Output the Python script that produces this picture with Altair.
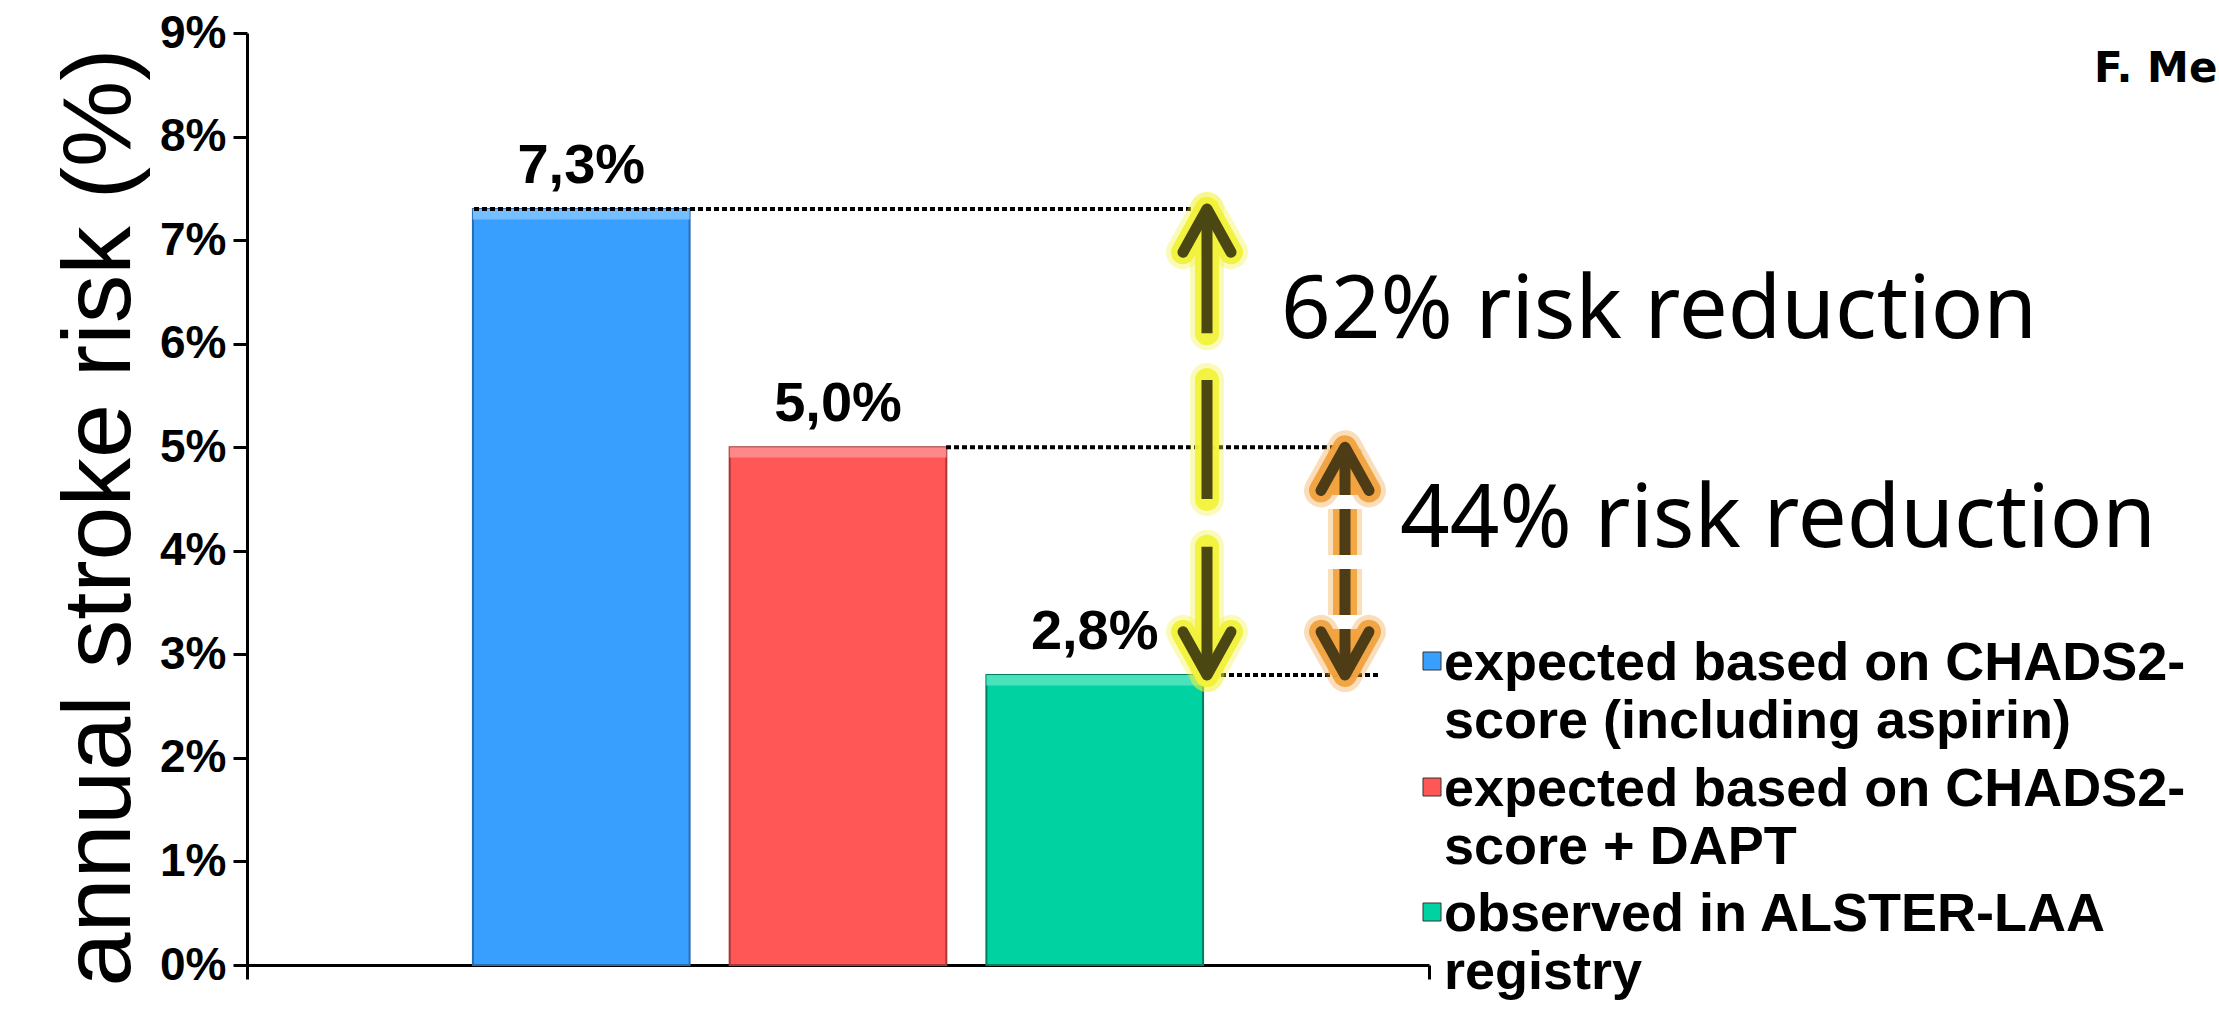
import altair as alt
import pandas as pd

# ---- data -------------------------------------------------------------
series_keys = ["chads2_aspirin", "chads2_dapt", "alster_laa"]
risk_values = [7.3, 5.0, 2.8]                       # annual stroke risk, %
bar_fill = ["#389fff", "#ff5656", "#00d3a1"]
bar_edge = ["#2a6cb0", "#a83838", "#00805f"]
bar_bevel = ["#7cc1ff", "#ff8e8e", "#52e3bf"]
legend_labels = [
    ["expected based on CHADS2-", "score (including aspirin)"],
    ["expected based on CHADS2-", "score + DAPT"],
    ["observed in ALSTER-LAA", "registry"],
]
y_ticks = [0, 1, 2, 3, 4, 5, 6, 7, 8, 9]
y_title = "annual stroke risk (%)"
author = "F. Meincke"

# relative risk reductions shown next to the arrows
rrr_all = round((1 - risk_values[2] / risk_values[0]) * 100)
rrr_dapt = round((1 - risk_values[2] / risk_values[1]) * 100)

# ---- layout (pixels, relative to the plot origin) ----------------------
W, H = 1182, 932
PAD = {"left": 247, "top": 33, "right": 2219 - 247 - W, "bottom": 1015 - 33 - H}
YELLOW_X, ORANGE_X = 960, 1098
guide_start = [227, 699, 958]
guide_end = [960, 1103, 1133]
yellow_breaks = [(6.1, 7.3), (4.5, 5.65), (2.8, 4.04)]

BOLD = "Liberation Sans"
HAND = "Comic Sans MS, Noto Sans"

y_scale = alt.Scale(domain=[0, 9], nice=False, zero=True)
y_axis = alt.Axis(values=y_ticks, labelExpr="datum.value + '%'", title=y_title,
                  labelFont=BOLD, labelFontSize=46, labelFontWeight="bold",
                  labelColor="black", labelPadding=7, tickSize=14, tickWidth=3,
                  tickColor="black", domainColor="black", domainWidth=3,
                  grid=False, titleFont=BOLD, titleFontSize=97,
                  titleFontWeight="normal", titleColor="black", titleX=-118,
                  titleY=484, titleAngle=270, titleAlign="center",
                  titleBaseline="alphabetic")
x_axis = alt.Axis(labels=False, title=None, tickBand="extent", tickSize=14,
                  tickWidth=3, tickColor="black", domainColor="black",
                  domainWidth=3, grid=False)


def Y(field):
    return alt.Y(field, scale=y_scale, axis=y_axis)


bars = pd.DataFrame({"group": "all", "series": series_keys, "value": risk_values})
base = alt.Chart(bars)
X = alt.X("group:N", scale=alt.Scale(paddingInner=0, paddingOuter=0), axis=x_axis)
XO = alt.XOffset("series:N", sort=series_keys,
                 scale=alt.Scale(domain=series_keys, paddingInner=0.156,
                                 paddingOuter=0.88))

bar_layer = base.mark_bar(strokeWidth=2).encode(
    x=X, xOffset=XO, y=Y("value:Q"),
    color=alt.Color("series:N", scale=alt.Scale(domain=series_keys, range=bar_fill),
                    legend=None),
    stroke=alt.Stroke("series:N", scale=alt.Scale(domain=series_keys, range=bar_edge),
                      legend=None),
)

# lighter bevel strip along the top of each bar
bevel_layer = base.transform_calculate(lower="datum.value - 0.1").mark_bar(
    opacity=0.9).encode(
    x=X, xOffset=XO, y=Y("value:Q"), y2="lower:Q",
    fill=alt.Fill("series:N", scale=alt.Scale(domain=series_keys, range=bar_bevel),
                  legend=None),
)

value_labels = base.transform_calculate(
    label="replace(format(datum.value, '.1f'), '.', ',') + '%'"
).mark_text(font=BOLD, fontSize=56, fontWeight="bold", color="black",
            baseline="alphabetic", dy=-26).encode(
    x=X, xOffset=XO, y=Y("value:Q"), text="label:N",
)

layers = [bar_layer, bevel_layer, value_labels]

# dotted guides from each bar top towards the arrows
for v, x0, x1 in zip(risk_values, guide_start, guide_end):
    layers.append(
        alt.Chart(pd.DataFrame({"value": [v]})).mark_rule(
            color="black", strokeWidth=4, strokeDash=[5, 3]
        ).encode(x=alt.value(x0), x2=alt.value(x1), y=Y("value:Q"))
    )

UP = "M -1 1.8 L 0 0 L 1 1.8"
DOWN = "M -1 -1.8 L 0 0 L 1 -1.8"
head_shape = alt.Shape("dir:N", scale=alt.Scale(domain=["up", "down"], range=[UP, DOWN]),
                       legend=None)


def arrow(xpx, spans, tips, glow, dark, dash=None):
    seg = pd.DataFrame({"value": [s[0] for s in spans], "hi": [s[1] for s in spans]})
    heads = pd.DataFrame({"value": tips, "dir": ["up", "down"]})
    out = []
    for width, col, op in [(34, glow, 0.35), (24, glow, 0.95), (11, dark, 1.0)]:
        rule_kw = dict(color=col, strokeWidth=width, opacity=op,
                       strokeCap="butt" if col == dark else "round")
        if dash:
            rule_kw["strokeDash"] = dash
            rule_kw["strokeCap"] = "butt"
        out.append(
            alt.Chart(seg).mark_rule(**rule_kw).encode(
                x=alt.value(xpx), y=Y("value:Q"), y2="hi:Q")
        )
        out.append(
            alt.Chart(heads).mark_point(filled=False, size=2304, strokeWidth=width,
                                        color=col, opacity=op, strokeCap="round",
                                        strokeJoin="round").encode(
                x=alt.value(xpx), y=Y("value:Q"), shape=head_shape)
        )
    return out


layers += arrow(YELLOW_X, yellow_breaks, [risk_values[0], risk_values[2]],
                "#f2f23a", "#4a4712")
layers += arrow(ORANGE_X, [(risk_values[2], risk_values[1])],
                [risk_values[1], risk_values[2]], "#f2a33e", "#4e3c16",
                dash=[46, 14])

layers.append(
    alt.Chart(pd.DataFrame({"value": [6.05]})).mark_text(
        font=HAND, fontSize=87, align="left", baseline="alphabetic", color="black",
        text=f"{rrr_all}% risk reduction").encode(x=alt.value(1034), y=Y("value:Q"))
)
layers.append(
    alt.Chart(pd.DataFrame({"value": [4.04]})).mark_text(
        font=HAND, fontSize=87, align="left", baseline="alphabetic", color="black",
        text=f"{rrr_dapt}% risk reduction").encode(x=alt.value(1153), y=Y("value:Q"))
)

# legend drawn beside the plot
dot = pd.DataFrame({"k": [0]})
legend_y = [604, 730, 855]
for lines, fill, ty in zip(legend_labels, bar_fill, legend_y):
    layers.append(
        alt.Chart(dot).mark_square(size=324, color=fill, opacity=1,
                                   stroke="#333333", strokeWidth=1).encode(
            x=alt.value(1185), y=alt.value(ty + 24))
    )
    layers.append(
        alt.Chart(dot).mark_text(text=lines, font=BOLD, fontSize=54, fontWeight="bold",
                                 align="left", baseline="top", lineHeight=58,
                                 color="black").encode(
            x=alt.value(1197), y=alt.value(ty))
    )

layers.append(
    alt.Chart(dot).mark_text(text=author, font="Comic Sans MS, DejaVu Sans",
                             fontSize=42, fontWeight="bold", align="left",
                             baseline="alphabetic", color="black").encode(
        x=alt.value(1847), y=alt.value(49))
)

chart = alt.layer(*layers).properties(
    width=W, height=H, padding=PAD, autosize=alt.AutoSizeParams(type="none"),
    background="white",
).configure_view(stroke=None)

chart.save("out.html", embed_options={"renderer": "svg", "actions": False})
